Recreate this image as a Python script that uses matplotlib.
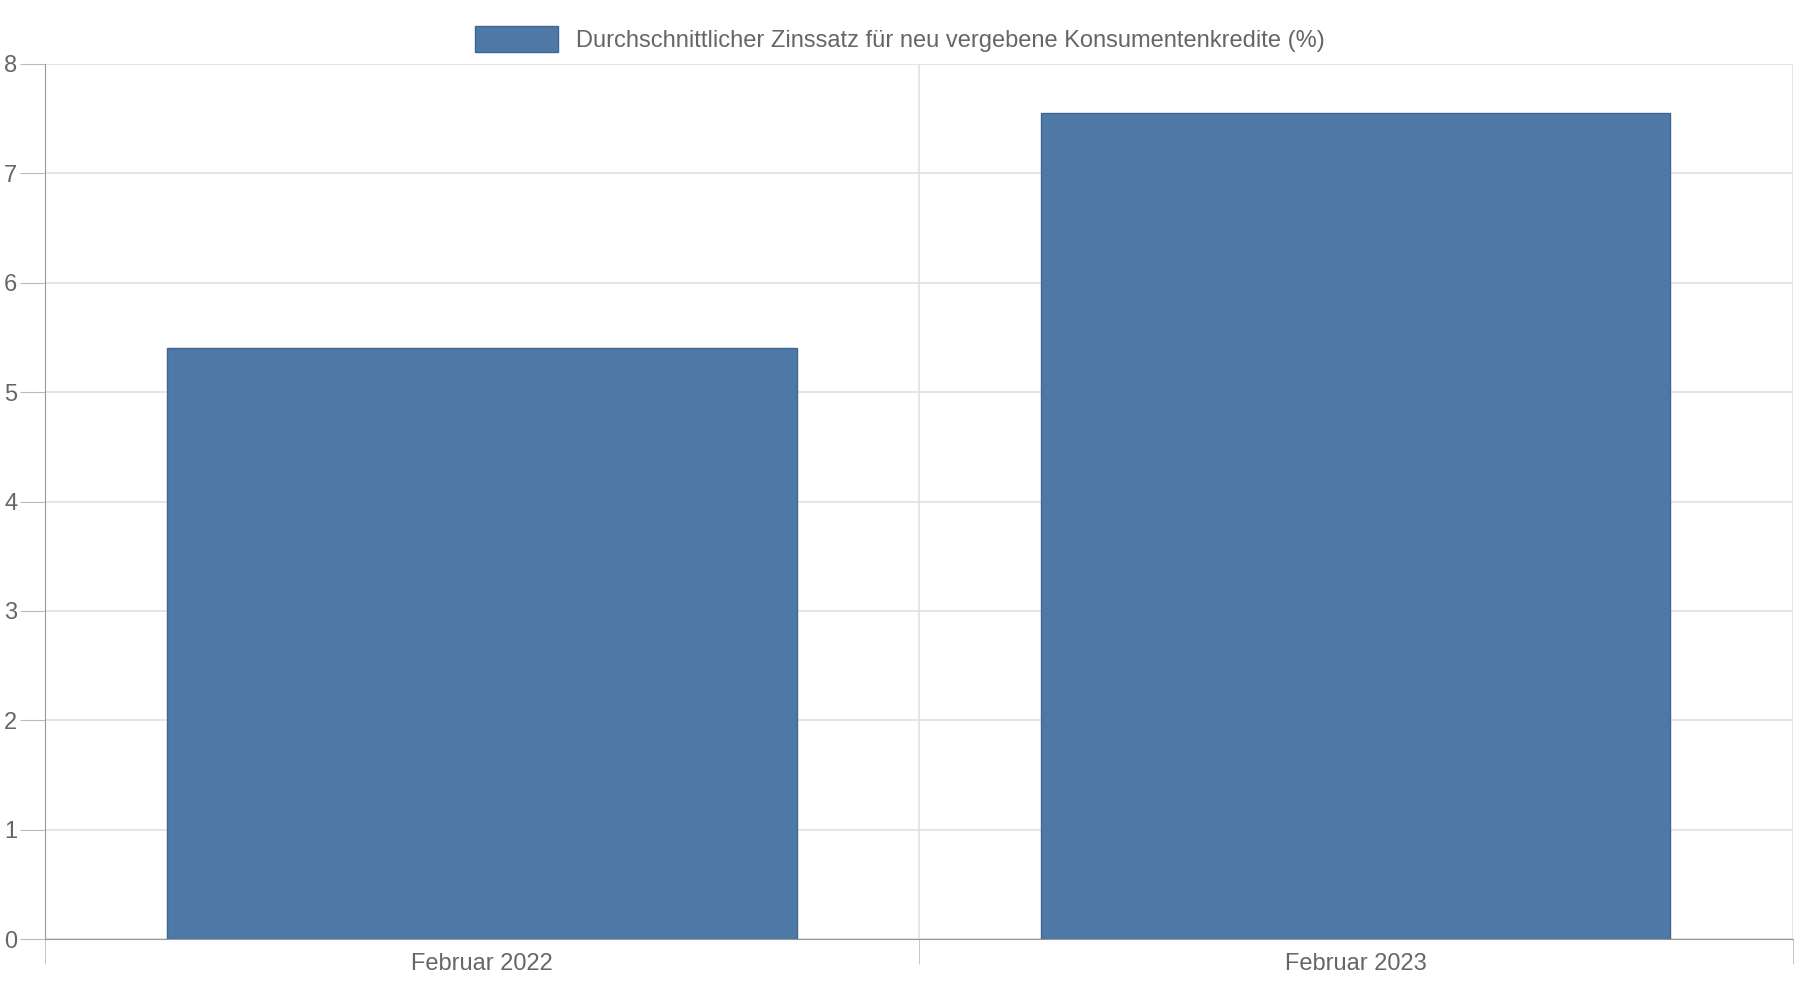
import matplotlib
matplotlib.use("Agg")
import matplotlib.pyplot as plt
from matplotlib.patches import Patch

categories = ["Februar 2022", "Februar 2023"]
values = [5.4, 7.55]
series_label = "Durchschnittlicher Zinssatz für neu vergebene Konsumentenkredite (%)"
yticks = [0, 1, 2, 3, 4, 5, 6, 7, 8]

plt.rcParams['font.family'] = ['Liberation Sans', 'DejaVu Sans']
fig = plt.figure(figsize=(18, 10), dpi=100)
ax = fig.add_axes([0.025, 0.061, 0.971, 0.875])
color = "#4e79a7"
x = list(range(len(categories)))
ax.bar(x, values, width=0.72, color=color, edgecolor="#3f6590", linewidth=1, zorder=3)
ax.set_xlim(-0.5, len(categories) - 0.5)
ax.set_ylim(0, 8)
ax.set_yticks(yticks)
ax.set_xticks(x)
ax.set_xticklabels(categories)
ax.set_xticks([i - 0.5 for i in range(len(categories) + 1)], minor=True)
ax.grid(axis='y', color="#e0e0e0", linewidth=1.2, zorder=0)
ax.grid(axis='x', which='minor', color="#e0e0e0", linewidth=1.2, zorder=0)
ax.tick_params(axis='x', which='major', length=0, pad=10, labelsize=17, labelcolor="#666666")
ax.tick_params(axis='x', which='minor', length=18, color="#bbbbbb")
ax.tick_params(axis='y', length=18, color="#bbbbbb", labelsize=17, labelcolor="#666666", pad=2)
for s in ['top', 'right']:
    ax.spines[s].set_visible(False)
ax.spines['left'].set_color("#999999")
ax.spines['bottom'].set_color("#999999")
fig.legend(handles=[Patch(facecolor=color, edgecolor="#3f6590")], labels=[series_label],
           loc='upper center', bbox_to_anchor=(0.5, 0.995), frameon=False,
           fontsize=17, labelcolor="#666666", handlelength=3.5, handleheight=1.3)
fig.savefig("out.png", dpi=100, facecolor="white")
